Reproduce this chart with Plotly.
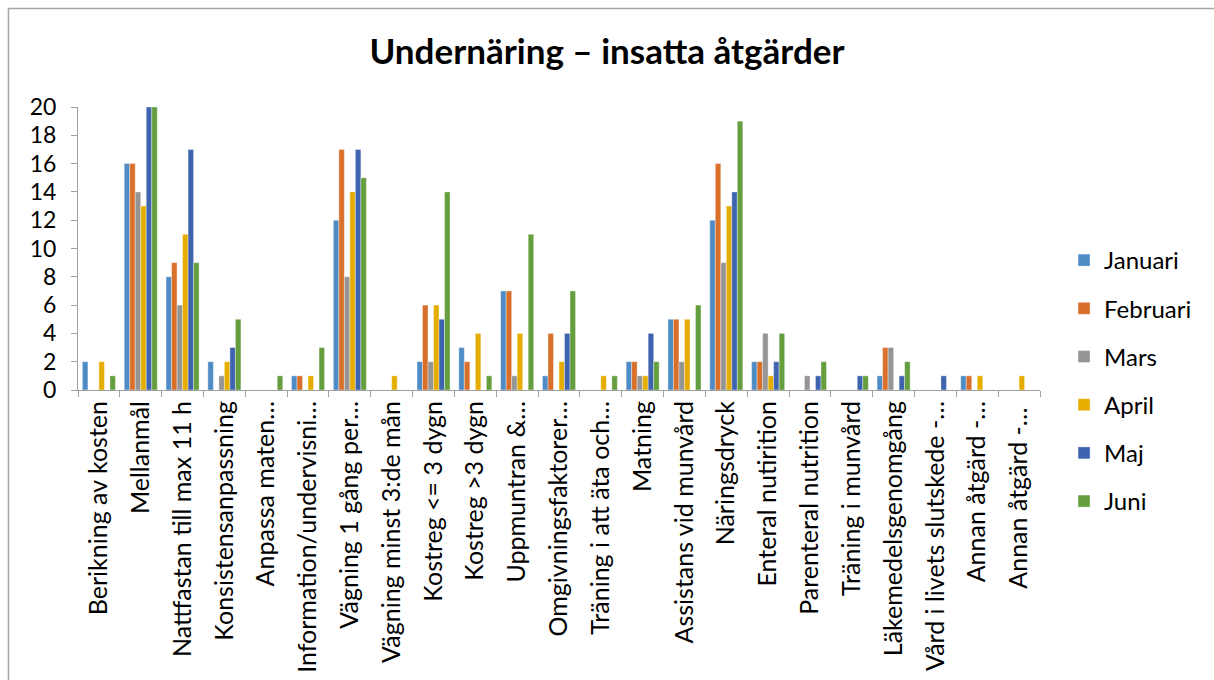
import plotly.graph_objects as go

categories = [
    "Berikning av kosten", "Mellanmål", "Nattfastan till max 11 h",
    "Konsistensanpassning", "Anpassa maten…", "Information/undervisni…",
    "Vägning 1 gång per…", "Vägning minst 3:de mån", "Kostreg <= 3 dygn",
    "Kostreg >3 dygn", "Uppmuntran &…", "Omgivningsfaktorer…",
    "Träning i att äta och…", "Matning", "Assistans vid munvård",
    "Näringsdryck", "Enteral nutirition", "Parenteral nutrition",
    "Träning i munvård", "Läkemedelsgenomgång", "Vård i livets slutskede -…",
    "Annan åtgärd -…", "Annan åtgärd -… ",
]

januari  = [2, 16, 8, 2, 0, 1, 12, 0, 2, 3, 7, 1, 0, 2, 5, 12, 2, 0, 0, 1, 0, 1, 0]
februari = [0, 16, 9, 0, 0, 1, 17, 0, 6, 2, 7, 4, 0, 2, 5, 16, 2, 0, 0, 3, 0, 1, 0]
mars     = [0, 14, 6, 1, 0, 0, 8, 0, 2, 0, 1, 0, 0, 1, 2, 9, 4, 1, 0, 3, 0, 0, 0]
april    = [2, 13, 11, 2, 0, 1, 14, 1, 6, 4, 4, 2, 1, 1, 5, 13, 1, 0, 0, 0, 0, 1, 1]
maj      = [0, 20, 17, 3, 0, 0, 17, 0, 5, 0, 0, 4, 0, 4, 0, 14, 2, 1, 1, 1, 1, 0, 0]
juni     = [1, 20, 9, 5, 1, 3, 15, 0, 14, 1, 11, 7, 1, 2, 6, 19, 4, 2, 1, 2, 0, 0, 0]

series = [
    ("Januari", januari, "#4F8BC4"),
    ("Februari", februari, "#D8702C"),
    ("Mars", mars, "#959595"),
    ("April", april, "#E5AD00"),
    ("Maj", maj, "#3E64AF"),
    ("Juni", juni, "#659E3F"),
]

FONT = "Lato, 'Open Sans', sans-serif"
W, H = 1214, 680
ML, MR, MT, MB = 78, 174, 107, 290
PW, PH = W - ML - MR, H - MT - MB

fig = go.Figure()
for name, values, color in series:
    fig.add_trace(go.Bar(
        x=categories, y=values, name=name, legendgroup=name,
        marker=dict(color=color, line=dict(color="rgba(255,255,255,0.6)", width=0.6)),
    ))

fig.update_layout(
    width=W, height=H,
    margin=dict(l=ML, r=MR, t=MT, b=MB, autoexpand=False),
    paper_bgcolor="white", plot_bgcolor="white",
    font=dict(family=FONT, color="black", size=23),
    barmode="group", bargap=0.21, bargroupgap=0,
    title=dict(
        text="<b>Undernäring – insatta åtgärder</b>",
        x=0.5, xanchor="center",
        y=1 - 52 / H, yanchor="middle",
        font=dict(family=FONT, size=35, color="black"),
    ),
    legend=dict(
        x=1.025, xanchor="left", y=(H - 381) / H, yanchor="middle",
        yref="container",
        font=dict(family=FONT, size=24, color="black"),
        tracegroupgap=14,
        bgcolor="rgba(0,0,0,0)",
    ),
)

fig.update_yaxes(
    range=[0, 20], dtick=2, showgrid=False, zeroline=False, automargin=False,
    showline=True, linecolor="#A0A0A0", linewidth=1,
    ticks="outside", ticklen=6, tickcolor="#A0A0A0", ticklabelstandoff=10,
    tickfont=dict(family=FONT, size=23, color="black"),
)
fig.update_xaxes(
    type="category", automargin=False,
    showgrid=False, showline=True, linecolor="#A0A0A0", linewidth=1,
    ticks="outside", ticklen=6, tickcolor="#A0A0A0", tickson="boundaries",
    tickangle=-90, tickfont=dict(family=FONT, size=25, color="black"),
)

# outer chart frame (left and top edges fall inside the page)
fig.add_shape(
    type="rect", xref="paper", yref="paper",
    x0=(8.5 - ML) / PW, x1=(W + 20 - ML) / PW,
    y0=-(MB + 20) / PH, y1=(H - MB - 8.5) / PH,
    line=dict(color="#A6A6A6", width=1.5), fillcolor="rgba(0,0,0,0)",
    layer="below",
)

fig.write_html("out.html")
